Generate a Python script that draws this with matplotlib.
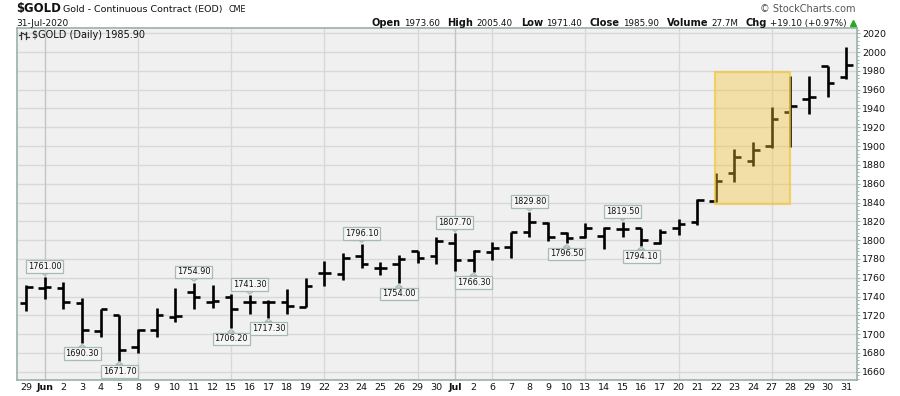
import matplotlib
matplotlib.use("Agg")
import matplotlib.pyplot as plt
from matplotlib.patches import Rectangle
from matplotlib.lines import Line2D
import numpy as np
import pandas as pd

# ---------------- data ----------------
dates = ["2020-05-29",
         "2020-06-01", "2020-06-02", "2020-06-03", "2020-06-04", "2020-06-05",
         "2020-06-08", "2020-06-09", "2020-06-10", "2020-06-11", "2020-06-12",
         "2020-06-15", "2020-06-16", "2020-06-17", "2020-06-18", "2020-06-19",
         "2020-06-22", "2020-06-23", "2020-06-24", "2020-06-25", "2020-06-26",
         "2020-06-29", "2020-06-30", "2020-07-01", "2020-07-02",
         "2020-07-06", "2020-07-07", "2020-07-08", "2020-07-09", "2020-07-10",
         "2020-07-13", "2020-07-14", "2020-07-15", "2020-07-16", "2020-07-17",
         "2020-07-20", "2020-07-21", "2020-07-22", "2020-07-23", "2020-07-24",
         "2020-07-27", "2020-07-28", "2020-07-29", "2020-07-30", "2020-07-31"]

opens = [1732.7, 1749.0, 1748.7, 1733.4, 1703.3, 1720.3, 1686.6, 1704.4, 1718.5, 1745.1,
         1734.5, 1739.1, 1733.8, 1734.5, 1734.5, 1729.2, 1765.3, 1763.9, 1783.4, 1770.7,
         1774.6, 1788.4, 1783.4, 1796.6, 1778.8, 1787.7, 1793.0, 1808.3, 1817.8, 1807.2,
         1802.9, 1804.7, 1811.8, 1812.5, 1796.6, 1812.5, 1818.9, 1841.9, 1871.7, 1884.5,
         1900.1, 1936.6, 1950.1, 1985.6, 1973.6]
highs = [1752.2, 1761.0, 1755.8, 1738.0, 1726.7, 1720.8, 1705.1, 1728.1, 1748.7, 1754.9,
         1752.2, 1742.3, 1741.3, 1736.3, 1747.6, 1759.3, 1778.1, 1785.9, 1796.1, 1777.1,
         1784.1, 1788.4, 1802.9, 1807.7, 1789.5, 1797.6, 1809.0, 1829.8, 1818.9, 1808.3,
         1817.8, 1813.6, 1819.5, 1812.5, 1811.8, 1822.1, 1843.4, 1871.0, 1896.9, 1904.0,
         1941.2, 1974.6, 1974.6, 1985.6, 2005.4]
lows = [1724.6, 1737.0, 1726.3, 1690.3, 1697.3, 1671.7, 1679.5, 1696.6, 1712.5, 1726.3,
        1727.4, 1706.2, 1721.4, 1717.3, 1721.4, 1728.5, 1751.5, 1757.5, 1769.9, 1762.9,
        1754.0, 1775.3, 1774.2, 1767.5, 1766.3, 1778.8, 1780.6, 1802.9, 1799.0, 1796.5,
        1801.9, 1790.5, 1802.9, 1794.1, 1795.9, 1805.4, 1816.1, 1840.9, 1862.1, 1879.2,
        1897.6, 1899.4, 1933.8, 1951.9, 1971.4]
closes = [1750.5, 1750.0, 1733.8, 1704.4, 1726.3, 1683.1, 1704.4, 1720.3, 1719.0, 1739.8,
          1735.2, 1726.7, 1734.5, 1734.5, 1730.2, 1751.5, 1765.3, 1780.6, 1774.6, 1770.7,
          1779.5, 1781.3, 1799.4, 1778.8, 1788.8, 1791.9, 1809.0, 1818.9, 1802.9, 1801.9,
          1812.5, 1812.5, 1811.8, 1800.1, 1809.0, 1816.8, 1842.7, 1863.2, 1888.8, 1895.9,
          1928.8, 1943.0, 1952.6, 1966.8, 1985.9]

annot_dates = ["2020-06-01", "2020-06-03", "2020-06-05", "2020-06-11", "2020-06-15",
               "2020-06-16", "2020-06-17", "2020-06-24", "2020-06-26", "2020-07-01",
               "2020-07-02", "2020-07-08", "2020-07-10", "2020-07-15", "2020-07-16"]
annot_values = [1761.00, 1690.30, 1671.70, 1754.90, 1706.20, 1741.30, 1717.30, 1796.10,
                1754.00, 1807.70, 1766.30, 1829.80, 1796.50, 1819.50, 1794.10]
annot_sides = ["H", "L", "L", "H", "L", "H", "L", "H", "L", "H", "L", "H", "L", "H", "L"]

highlight_dates = ("2020-07-22", "2020-07-28")
highlight_prices = (1838.4, 1978.5)

y_ticks = list(range(1660, 2021, 20))

header_items = [("Open", "1973.60"), ("High", "2005.40"), ("Low", "1971.40"),
                ("Close", "1985.90"), ("Volume", "27.7M"), ("Chg", "+19.10 (+0.97%)")]
last_close = "1985.90"

# ---------------- figure ----------------
W, H = 900, 396
fig = plt.figure(figsize=(W / 100, H / 100), dpi=100)
fig.patch.set_facecolor("white")

L_px, R_px, T_px, B_px = 16.5, 856.7, 28.3, 380.0
ax = fig.add_axes([L_px / W, 1 - B_px / H, (R_px - L_px) / W, (B_px - T_px) / H])
ax.set_facecolor("#f0f0f0")

dt = pd.to_datetime(dates)
x = np.arange(len(dates))
ax.set_xlim(-0.52, len(x) - 1 + 0.56)
ax.set_ylim(1651.2, 2025.3)

# horizontal grid
for yv in y_ticks:
    ax.axhline(yv, color="#d8d8d8", lw=1.0, zorder=0)

# vertical grid (Mondays light, month starts darker)
labels = []
for k, d in enumerate(dt):
    new_month = k > 0 and d.month != dt[k - 1].month
    if new_month:
        labels.append(d.strftime("%b"))
        ax.axvline(k, color="#c4c4c4", lw=1.0, zorder=0)
    else:
        labels.append(str(d.day))
        if d.weekday() == 0:
            ax.axvline(k, color="#d8d8d8", lw=1.0, zorder=0)

# OHLC bars
tw = 0.35
bar_lw = 1.9
ax.vlines(x, lows, highs, color="black", lw=bar_lw, zorder=3, capstyle="butt")
ax.hlines(opens, x - tw, x, color="black", lw=bar_lw, zorder=3)
ax.hlines(closes, x, x + tw, color="black", lw=bar_lw, zorder=3)

# highlight box
i0 = dates.index(highlight_dates[0])
i1 = dates.index(highlight_dates[1])
rect = Rectangle((i0 - 0.05, highlight_prices[0]), (i1 - i0) + 0.03,
                 highlight_prices[1] - highlight_prices[0],
                 facecolor=(243 / 255, 197 / 255, 48 / 255, 0.38),
                 edgecolor=(240 / 255, 200 / 255, 70 / 255, 0.75), lw=1.6, zorder=5)
ax.add_patch(rect)

# annotations
for d, v, side in zip(annot_dates, annot_values, annot_sides):
    i = dates.index(d)
    dy = 7.6 if side == "H" else -7.6
    ax.annotate(f"{v:.2f}", xy=(i, v), xytext=(0, dy), textcoords="offset points",
                ha="center", va="center", fontsize=5.9, color="#111111",
                bbox=dict(boxstyle="square,pad=0.22", fc="#f6f6f6", ec="#a6bbb3", lw=0.9),
                arrowprops=dict(arrowstyle="wedge,tail_width=0.8,shrink_factor=0.5",
                                fc="#f6f6f6", ec="#a6bbb3", lw=0.9, shrinkA=0, shrinkB=1),
                zorder=6)

# axes styling
for s in ax.spines.values():
    s.set_color("#9ab2a9")
    s.set_linewidth(1.2)

ax.set_xticks(x)
ax.set_xticklabels(labels)
for lab in ax.get_xticklabels():
    if not lab.get_text().isdigit():
        lab.set_fontweight("bold")
ax.tick_params(axis="x", length=0, pad=2.5, labelsize=6.8, colors="#111111")

ax.yaxis.tick_right()
ax.set_yticks(y_ticks)
ax.set_yticks(np.arange(1652, 2025, 4), minor=True)
ax.tick_params(axis="y", which="major", length=2.5, width=0.8, pad=1.2,
               labelsize=6.8, colors="#9ab2a9", labelcolor="#111111")
ax.tick_params(axis="y", which="minor", length=1.3, width=0.7, colors="#9ab2a9")
ax.tick_params(axis="x", which="minor", length=0)

# legend label inside plot
fig.text(32 / W, 1 - 35.5 / H, f"$GOLD (Daily) {last_close}", fontsize=7, va="center",
         ha="left", color="#111111", zorder=7)

# small OHLC icon
def fl(x0, y0, x1, y1, lw=0.9):
    fig.add_artist(Line2D([x0 / W, x1 / W], [1 - y0 / H, 1 - y1 / H],
                          transform=fig.transFigure, color="#333333", lw=lw))
fl(21, 31.5, 21, 38.5); fl(18.5, 35, 21, 35); fl(21, 33, 23, 33)
fl(26, 31.5, 26, 38.5); fl(24, 33.5, 26, 33.5); fl(26, 36.5, 28.5, 36.5)

# header
fig.text(16 / W, 1 - 12 / H, "$GOLD", fontsize=8.4, fontweight="bold", va="baseline",
         ha="left", color="#111111")
fig.text(63 / W, 1 - 12 / H, "Gold - Continuous Contract (EOD)", fontsize=6.8,
         va="baseline", ha="left", color="#111111")
fig.text(229 / W, 1 - 12 / H, "CME", fontsize=5.8, va="baseline", ha="left",
         color="#111111")
fig.text(16 / W, 1 - 26 / H, "31-Jul-2020", fontsize=6.5, va="baseline", ha="left",
         color="#111111")
fig.text(856 / W, 1 - 12.5 / H, "\u00a9 StockCharts.com", fontsize=7, va="baseline",
         ha="right", color="#555555")

renderer = fig.canvas.get_renderer()
cur = 847.0
for lbl, val in reversed(header_items):
    t = fig.text(cur / W, 1 - 26 / H, val, fontsize=6.3, va="baseline", ha="right",
                 color="#111111")
    cur -= t.get_window_extent(renderer).width + 3
    t = fig.text(cur / W, 1 - 26 / H, lbl, fontsize=7.1, fontweight="bold",
                 va="baseline", ha="right", color="#111111")
    cur -= t.get_window_extent(renderer).width + 8

fig.add_artist(Line2D([852.7 / W], [1 - 23.3 / H], marker="^", markersize=4.5,
                      color="#22aa22", transform=fig.transFigure, lw=0))

fig.savefig("out.png", dpi=100, facecolor="white")
